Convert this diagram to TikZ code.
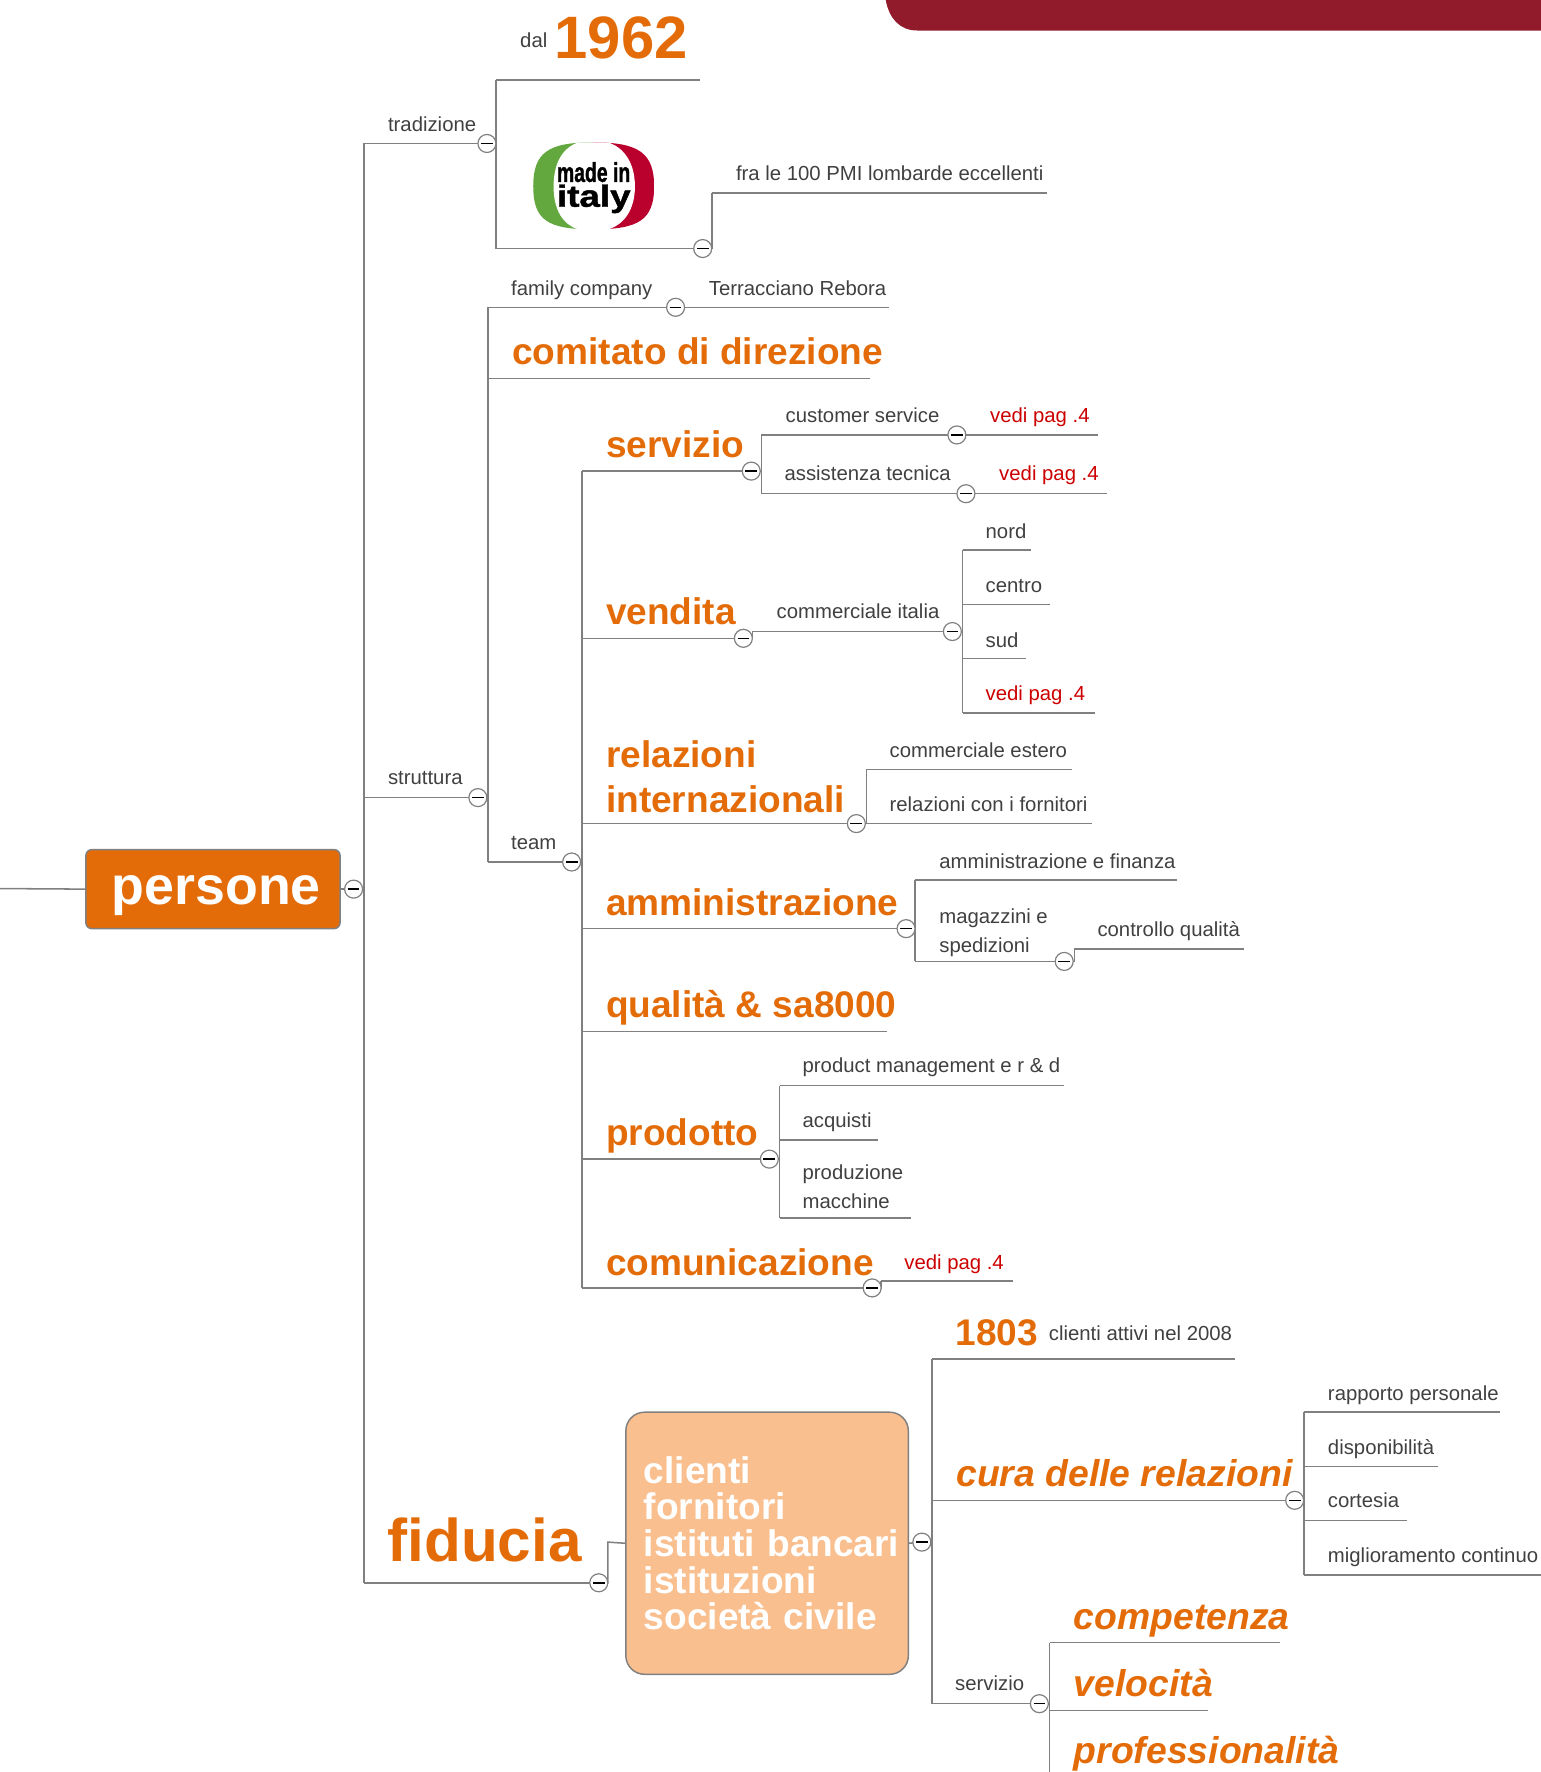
\documentclass[tikz,border=0pt]{standalone}
\usepackage{fontspec}
\setmainfont{Liberation Sans}
\newfontfamily\logofont[BoldFeatures={FakeBold=1.4}]{Liberation Sans}
\definecolor{orangeT}{RGB}{227,108,9}
\definecolor{peach}{RGB}{249,191,143}
\definecolor{barred}{RGB}{145,26,43}
\definecolor{linegray}{RGB}{128,128,128}
\definecolor{txtgray}{RGB}{64,64,64}
\definecolor{redT}{RGB}{204,0,0}
\definecolor{flaggreen}{RGB}{98,168,63}
\definecolor{flagred}{RGB}{186,0,45}
\tikzset{
  conn/.style={draw=linegray,line width=1.15pt},
  lab/.style={anchor=base west,inner sep=0pt,outer sep=0pt},
  small/.style={lab,text=txtgray,font=\fontsize{15.25}{21.5}\selectfont,align=left,yshift=-.6pt,xshift=.4pt},
  redsmall/.style={small,text=redT},
  big/.style={lab,text=orangeT,font=\fontsize{27.8}{33.9}\selectfont\bfseries,align=left,xshift=.4pt},
  bigit/.style={big,font=\fontsize{28}{33.9}\selectfont\bfseries\itshape},
  btn/.style={circle,draw=linegray,fill=white,line width=.9pt,minimum size=13.5pt,inner sep=0pt,
    path picture={\draw[black,line width=1.1pt]
      ([xshift=-4.4pt]path picture bounding box.center)--([xshift=4.4pt]path picture bounding box.center);}},
  rootbox/.style={draw=linegray,fill=orangeT,line width=1.1pt,rounded corners=4.5pt,minimum width=190.7pt,minimum height=59.3pt,
    text=white,font=\fontsize{40.3}{46}\selectfont\bfseries,text height=31pt,text depth=8.5pt},
  clientbox/.style={draw=linegray,fill=peach,line width=1.1pt,rounded corners=14pt,minimum width=211.9pt,minimum height=196.6pt,
    text=white,font=\fontsize{27.8}{27.5}\selectfont\bfseries,align=left,text width=184.9pt,inner xsep=13.5pt,inner ysep=0pt},
}
% name, style, x0, x1, line y, text x, baseline y, text
\newcommand\topic[8]{%
  \coordinate (#1-l) at (#3,#5);
  \coordinate (#1-r) at (#4,#5);
  \draw[conn] (#1-l)--(#1-r);
  \node[#2] (#1) at (#6,#7) {#8};
}
\newcommand\knob[1]{\node[btn] (#1-b) at (#1-r) {};}
\begin{document}
\begin{tikzpicture}[x=0.8474pt,y=-0.8474pt]
\useasboundingbox (0,0) rectangle (1364,1568.5);
\clip (0,0) rectangle (1364,1568.5);
% top bar
\fill[barred] (784,-5) -- (784,0) .. controls (787,16) and (796,27) .. (812,27) -- (1364,27) -- (1364,-5) -- cycle;

% root
\node[rootbox] (persone) at (188.5,787) {\hspace*{5pt}persone};
\coordinate (inflow) at (0,786.5);
\draw[conn] (inflow)--(persone.west);
\coordinate (rootb) at (313,787);

% ---- tradizione
\topic{trad}{small}{322}{431}{127}{343}{116}{tradizione}
\topic{struct}{small}{322}{423}{706}{343}{694}{struttura}
\topic{fid}{lab,text=orangeT,font=\fontsize{45.2}{50}\selectfont\bfseries}{322}{530}{1401}{343}{1382}{fiducia}
\draw[conn] (trad-l)--(fid-l);
\draw[conn] (persone.east)--(rootb);

\topic{yr}{small}{439}{620}{71}{460}{41}{dal}
\node[lab,text=orangeT,font=\fontsize{44.9}{50}\selectfont\bfseries] (anno) at (491,52) {1962};
\coordinate (mii-l) at (439,220);
\coordinate (mii-r) at (622,220);
\draw[conn] (mii-l)--(mii-r);
\draw[conn] (yr-l)--(mii-l);
\topic{pmi}{small}{630}{927}{171}{651}{159}{fra le 100 PMI lombarde eccellenti}
\draw[conn] (pmi-l)|-(mii-r);

% made in italy logo
\begin{scope}
\clip (525,126) .. controls (485,126) and (472,135) .. (472,165) .. controls (472,195) and (485,203) .. (525,203)
   .. controls (565,203) and (579,195) .. (579,165) .. controls (579,135) and (565,126) .. (525,126) -- cycle;
\fill[flaggreen] (472,126) rectangle (525,203);
\fill[flagred] (525,126) rectangle (579,203);
\fill[white] (525,124) .. controls (500,124) and (490,142) .. (490,165) .. controls (490,188) and (500,205) .. (525,205)
   .. controls (550,205) and (562,188) .. (562,165) .. controls (562,142) and (550,124) .. (525,124) -- cycle;
\end{scope}
\node[lab,text=black,font=\fontsize{20.5}{21}\selectfont\logofont\bfseries,xscale=.71] (logoa) at (493,161) {made in};
\node[lab,text=black,font=\fontsize{23}{24}\selectfont\logofont\bfseries,xscale=1.2] (logob) at (493,183) {italy};

% ---- struttura
\topic{fam}{small}{432}{598}{272}{452}{261}{family company}
\topic{terr}{small}{606}{787}{272}{627}{261}{Terracciano Rebora}
\topic{com}{big}{432}{770}{335}{453}{323}{comitato di direzione}
\topic{team}{small}{432}{506}{763}{452}{751}{team}
\draw[conn] (fam-l)--(team-l);

% ---- team children
\topic{serv}{big}{515}{665}{417}{536}{405}{servizio}
\topic{vend}{big}{515}{658}{565}{536}{553}{vendita}
\topic{rel}{big}{515}{758}{729}{536}{719}{relazioni\\internazionali}
\topic{amm}{big}{515}{802}{822}{536}{810}{amministrazione}
\topic{qual}{big}{515}{785}{913}{536}{901}{qualità \& sa8000}
\topic{prod}{big}{515}{681}{1026}{536}{1014}{prodotto}
\topic{comu}{big}{515}{772}{1140}{536}{1129}{comunicazione}
\draw[conn] (serv-l)--(comu-l);

% servizio
\topic{cust}{small}{674}{847}{385}{695}{373}{customer service}
\topic{cv}{redsmall}{855}{972}{385}{876}{373}{vedi pag .4}
\topic{ass}{small}{674}{855}{437}{694}{425}{assistenza tecnica}
\topic{av}{redsmall}{863}{980}{437}{884}{425}{vedi pag .4}
\draw[conn] (cust-l)--(ass-l);

% vendita
\topic{ci}{small}{666}{843}{559}{687}{547}{commerciale italia}
\draw[conn] (ci-l)|-(vend-r);
\topic{nord}{small}{852}{913}{487}{872}{476}{nord}
\topic{centro}{small}{852}{929}{535}{872}{524}{centro}
\topic{sud}{small}{852}{908}{583}{872}{572}{sud}
\topic{vv}{redsmall}{852}{969}{631}{872}{619}{vedi pag .4}
\draw[conn] (nord-l)--(vv-l);

% relazioni
\topic{ce}{small}{767}{949}{681}{787}{670}{commerciale estero}
\topic{rf}{small}{767}{967}{729}{787}{718}{relazioni con i fornitori}
\draw[conn] (ce-l)--(rf-l);

% amministrazione
\topic{af}{small}{810}{1042}{779}{831}{768}{amministrazione e finanza}
\topic{mag}{small}{810}{942}{851}{831}{842}{magazzini e\\spedizioni}
\draw[conn] (af-l)--(mag-l);
\topic{cq}{small}{951}{1101}{840}{971}{828}{controllo qualità}
\draw[conn] (cq-l)|-(mag-r);

% prodotto
\topic{pm}{small}{690}{942}{961}{710}{949}{product management e r \& d}
\topic{acq}{small}{690}{777}{1009}{710}{997}{acquisti}
\topic{pmac}{small}{690}{806}{1078}{710}{1069}{produzione\\macchine}
\draw[conn] (pm-l)--(pmac-l);

% comunicazione
\topic{cov}{redsmall}{780}{897}{1134}{800}{1123}{vedi pag .4}
\draw[conn] (cov-l)|-(comu-r);

% ---- fiducia
\node[clientbox] (clienti) at (679,1366) {clienti\\fornitori\\\makebox[0pt][l]{istituti bancari}\\istituzioni\\società civile};
\coordinate (fidj) at (538,1365);
\draw[conn] (fid-r)-|(fidj)--(clienti.west);
\coordinate (clb) at (816,1365);
\draw[conn] (clienti.east)--(clb);

\topic{att}{lab,text=orangeT,font=\fontsize{27.8}{30}\selectfont\bfseries}{825}{1093}{1203}{846}{1191}{1803}
\node[small] (attiv) at (928,1186) {clienti attivi nel 2008};
\topic{cura}{bigit}{825}{1146}{1328}{846}{1316}{cura delle relazioni}
\topic{fserv}{small}{825}{920}{1508}{845}{1496}{servizio}
\draw[conn] (att-l)--(fserv-l);

\topic{rapp}{small}{1154}{1328}{1250}{1175}{1239}{rapporto personale}
\topic{disp}{small}{1154}{1273}{1298}{1175}{1287}{disponibilità}
\topic{cort}{small}{1154}{1245}{1346}{1175}{1334}{cortesia}
\topic{migl}{small}{1154}{1364}{1394}{1175}{1382}{miglioramento continuo}
\draw[conn] (rapp-l)--(migl-l);

\topic{comp}{bigit}{929}{1133}{1454}{950}{1442}{competenza}
\topic{velo}{bigit}{929}{1069}{1514}{950}{1502}{velocità}
\node[bigit] (prof) at (950,1561) {professionalità};
\coordinate (fbot) at (929,1580);
\draw[conn] (comp-l)--(fbot);

% knobs
\node[btn] (rootk) at (rootb) {};
\node[btn] (clk) at (clb) {};
\knob{trad}\knob{struct}\knob{fid}\knob{mii}\knob{fam}\knob{team}
\knob{serv}\knob{vend}\knob{rel}\knob{amm}\knob{prod}\knob{comu}
\knob{cust}\knob{ass}\knob{ci}\knob{mag}\knob{cura}\knob{fserv}
\end{tikzpicture}
\end{document}
